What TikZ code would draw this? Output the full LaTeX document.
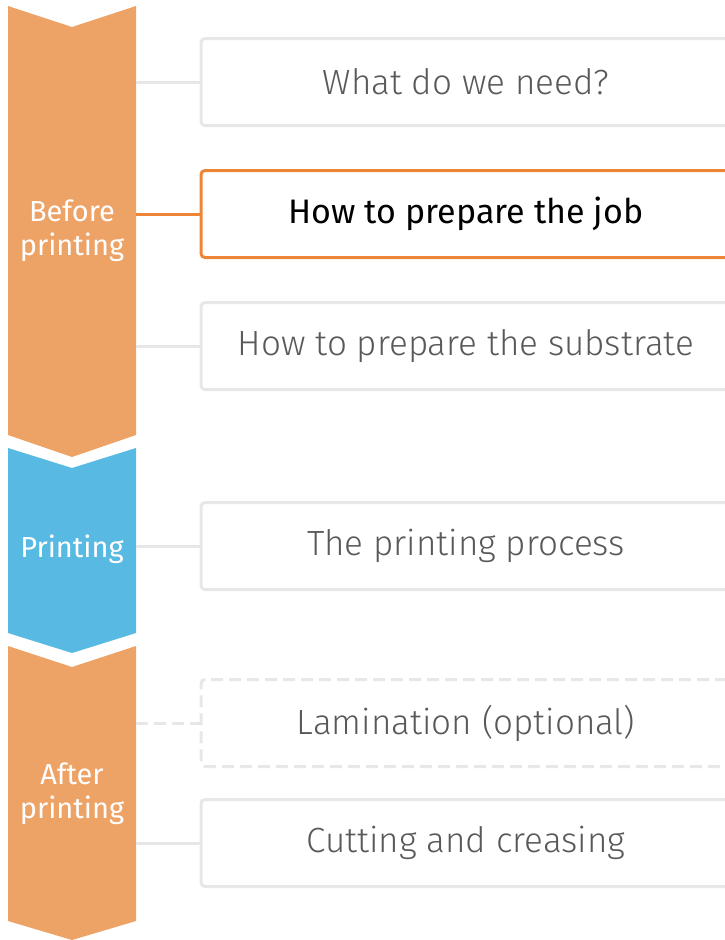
\documentclass[tikz,border=0pt]{standalone}
\usepackage{fontspec}
\setmainfont{Fira Sans}
\newfontfamily\lightfont{Fira Sans Light}
\definecolor{segorange}{HTML}{EDA266}
\definecolor{segblue}{HTML}{58B9E3}
\definecolor{boxgray}{HTML}{E5E7E8}
\definecolor{txtgray}{HTML}{58595B}
\definecolor{selorange}{HTML}{EE8536}
\tikzset{
  stepbox/.style={draw=boxgray, line width=3pt, rounded corners=4pt, minimum width=530pt, minimum height=87pt, inner sep=0pt, text=txtgray, font=\lightfont\fontsize{35}{40}\selectfont},
  selbox/.style={stepbox, draw=selorange, text=black, font=\fontsize{34}{40}\selectfont},
  dashbox/.style={stepbox, dash pattern=on 12pt off 6pt},
  link/.style={draw=boxgray, line width=3pt},
  sellink/.style={draw=selorange, line width=3pt},
  seglabel/.style={text=white, align=center, font=\fontsize{29}{34}\selectfont, inner sep=0pt}
}
\begin{document}
\begin{tikzpicture}[x=1pt,y=-1pt]
\useasboundingbox (0,0) rectangle (724,940);
% segments
\fill[segorange] (8,6) -- (72,27) -- (136,6) -- (136,435) -- (72,457) -- (8,435) -- cycle;
\fill[segblue] (8,448) -- (72,468) -- (136,448) -- (136,633) -- (72,653) -- (8,633) -- cycle;
\fill[segorange] (8,646) -- (72,667) -- (136,646) -- (136,921) -- (72,940) -- (8,921) -- cycle;
\node[seglabel] (before) at (72,231) {Before\\printing};
\node[seglabel] (printing) at (72,549) {Printing};
\node[seglabel] (after) at (72,794) {After\\printing};
% connector anchors on column edge
\coordinate (c1) at (136,82);
\coordinate (c2) at (136,214);
\coordinate (c3) at (136,346);
\coordinate (c4) at (136,546);
\coordinate (c5) at (136,723);
\coordinate (c6) at (136,843);
% boxes
\node[stepbox] (b1) at (466,82) {What do we need?};
\node[selbox] (b2) at (466,214) {How to prepare the job};
\node[stepbox] (b3) at (466,346) {How to prepare the substrate};
\node[stepbox] (b4) at (466,546) {The printing process};
\node[dashbox] (b5) at (466,723) {Lamination (optional)};
\node[stepbox] (b6) at (466,843) {Cutting and creasing};
% connectors
\draw[link] (c1) -- (b1.west);
\draw[sellink] (c2) -- (b2.west);
\draw[link] (c3) -- (b3.west);
\draw[link] (c4) -- (b4.west);
\draw[link, dash pattern=on 12pt off 6pt] (c5) -- (b5.west);
\draw[link] (c6) -- (b6.west);
\end{tikzpicture}
\end{document}
